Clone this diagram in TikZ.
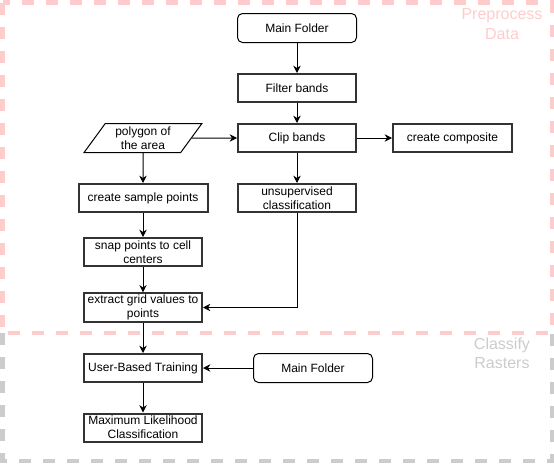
\documentclass[tikz,border=0pt]{standalone}
\usepackage{fontspec}
\setmainfont{Liberation Sans}
\definecolor{prepink}{RGB}{255,204,204}
\definecolor{clsgray}{RGB}{204,204,204}
\usetikzlibrary{shapes.geometric,arrows.meta}

\begin{document}
\begin{tikzpicture}[x=0.75pt, y=-0.75pt,
    box/.style={rectangle, draw=black!80, line width=1.5pt, minimum width=88.5pt, minimum height=21pt, inner xsep=2pt, inner ysep=1pt, align=center, font=\fontsize{9}{10.8}\selectfont},
    start/.style={rectangle, rounded corners=3.75pt, draw=black, line width=0.75pt, minimum width=89.25pt, minimum height=21.75pt, font=\fontsize{9}{10.8}\selectfont},
    io/.style={trapezium, trapezium left angle=59, trapezium right angle=121, trapezium stretches, draw=black, line width=0.75pt, minimum width=88.5pt, minimum height=21.75pt, inner xsep=0pt, inner ysep=1pt, align=center, font=\fontsize{9}{10.8}\selectfont},
    arr/.style={-{Stealth[length=5.5pt, width=5.5pt]}, line width=0.75pt},
    group/.style={dash pattern=on 9pt off 9pt, line width=3pt},
    title/.style={align=center, font=\fontsize{12}{14.4}\selectfont}
]
    \useasboundingbox (0,0) rectangle (554,464);

    \draw[group, draw=clsgray] (2.5,333) -- (2.5,461) -- (551.5,461) -- (551.5,333);
    \draw[group, draw=prepink] (2.5,2.5) rectangle (551.5,333);

    \node[title, text=prepink] (pre) at (502,24) {Preprocess\\Data};
    \node[title, text=clsgray] (cls) at (502,353) {Classify\\Rasters};

    \node[start] (mf1) at (297,28) {Main Folder};
    \node[box] (filt) at (297,88) {Filter bands};
    \node[box] (clip) at (297,138) {Clip bands};
    \node[io] (poly) at (143,138) {polygon of\\the area};
    \node[box, minimum width=89.25pt] (comp) at (452.5,138) {create composite};
    \node[box, minimum width=96.75pt] (samp) at (143,198) {create sample points};
    \node[box] (unsup) at (297,198) {unsupervised\\classification};
    \node[box] (snap) at (143,252) {snap points to cell\\centers};
    \node[box] (extr) at (143,307.5) {extract grid values to\\points};
    \node[box] (train) at (143,368) {User-Based Training};
    \node[start] (mf2) at (313,368) {Main Folder};
    \node[box] (mlc) at (143,427.5) {Maximum Likelihood\\Classification};

    \draw[arr] (mf1) -- (filt);
    \draw[arr] (filt) -- (clip);
    \draw[arr] (poly) -- (clip);
    \draw[arr] (clip) -- (comp);
    \draw[arr] (clip) -- (unsup);
    \draw[arr] (poly) -- (samp);
    \draw[arr] (samp) -- (snap);
    \draw[arr] (snap) -- (extr);
    \draw[arr] (unsup) |- (extr);
    \draw[arr] (extr) -- (train);
    \draw[arr] (mf2) -- (train);
    \draw[arr] (train) -- (mlc);
\end{tikzpicture}
\end{document}
